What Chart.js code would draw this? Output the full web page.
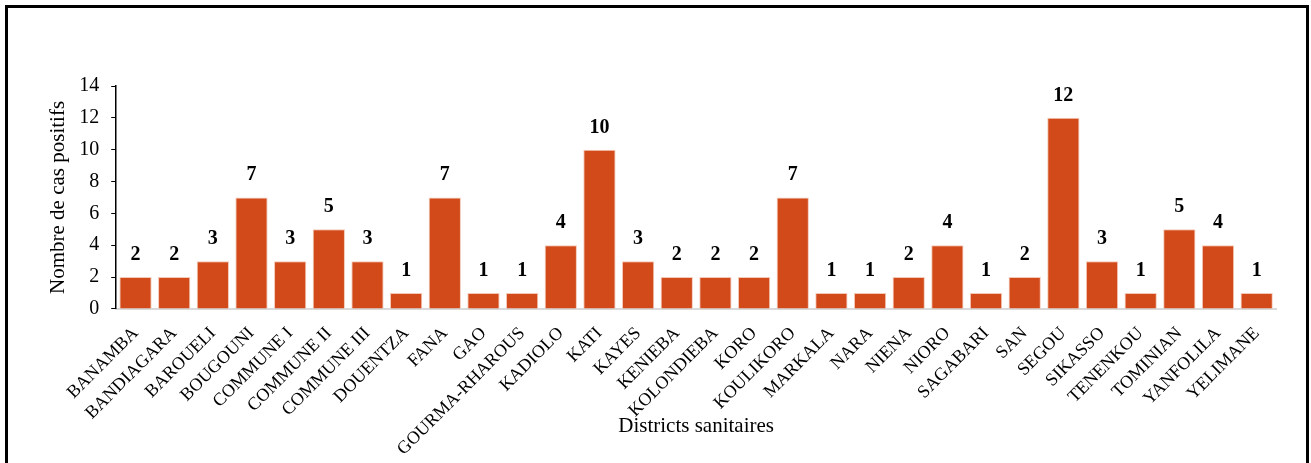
<!DOCTYPE html>
<html>
<head>
<meta charset="utf-8">
<script src="https://cdn.jsdelivr.net/npm/chart.js@4"></script>
<style>
    body { margin: 0; background: #fff; }
    #frame {
        position: absolute; left: 5px; top: 5px;
        width: 1298px; height: 470px;
        border: 3px solid #000;
    }
    #wrap { position: absolute; left: 0; top: 0; width: 1298px; height: 458px; }
</style>
</head>
<body>
<div id="frame"><div id="wrap"><canvas id="chart"></canvas></div></div>
<script>
const districts = ['BANAMBA', 'BANDIAGARA', 'BAROUELI', 'BOUGOUNI', 'COMMUNE I', 'COMMUNE II',
    'COMMUNE III', 'DOUENTZA', 'FANA', 'GAO', 'GOURMA-RHAROUS', 'KADIOLO', 'KATI', 'KAYES',
    'KENIEBA', 'KOLONDIEBA', 'KORO', 'KOULIKORO', 'MARKALA', 'NARA', 'NIENA', 'NIORO',
    'SAGABARI', 'SAN', 'SEGOU', 'SIKASSO', 'TENENKOU', 'TOMINIAN', 'YANFOLILA', 'YELIMANE'];
const positiveCases = [2, 2, 3, 7, 3, 5, 3, 1, 7, 1, 1, 4, 10, 3, 2, 2, 2, 7, 1, 1, 2, 4,
    1, 2, 12, 3, 1, 5, 4, 1];
const yTicks = [0, 2, 4, 6, 8, 10, 12, 14];

const serif = '"Liberation Serif", "Times New Roman", serif';

// value labels above each bar
const barLabels = {
    id: 'barLabels',
    afterDatasetsDraw(chart) {
        const ctx = chart.ctx;
        const meta = chart.getDatasetMeta(0);
        ctx.save();
        ctx.font = 'bold 20px ' + serif;
        ctx.fillStyle = '#000';
        ctx.textAlign = 'center';
        ctx.textBaseline = 'alphabetic';
        meta.data.forEach((bar, i) => {
            ctx.fillText(String(positiveCases[i]), bar.x, bar.y - 17);
        });
        ctx.restore();
    }
};

new Chart(document.getElementById('chart').getContext('2d'), {
    type: 'bar',
    data: {
        labels: districts,
        datasets: [{
            data: positiveCases,
            backgroundColor: '#D24A19',
            borderColor: '#F3C9B8',
            borderWidth: 1,
            barPercentage: 0.835,
            categoryPercentage: 1.0
        }]
    },
    options: {
        responsive: true,
        maintainAspectRatio: false,
        animation: false,
        layout: { padding: { top: 78, right: 30, left: 34, bottom: 5 } },
        plugins: {
            legend: { display: false },
            tooltip: { enabled: false }
        },
        scales: {
            x: {
                grid: { display: false, drawTicks: false },
                border: { display: true, color: '#d9d9d9', width: 2 },
                ticks: {
                    color: '#000',
                    font: { family: serif, size: 18 },
                    minRotation: 45,
                    maxRotation: 45,
                    autoSkip: false,
                    padding: 14
                },
                title: {
                    display: true,
                    text: 'Districts sanitaires',
                    color: '#000',
                    font: { family: serif, size: 21 },
                    padding: { top: -60, bottom: 22 }
                }
            },
            y: {
                min: 0,
                max: 14,
                afterBuildTicks(axis) {
                    axis.ticks = yTicks.map(v => ({ value: v }));
                },
                grid: { drawOnChartArea: false, drawTicks: true, tickLength: 5, color: '#000' },
                border: { display: true, color: '#000', width: 1.5 },
                ticks: {
                    color: '#000',
                    font: { family: serif, size: 20 },
                    padding: 12
                },
                title: {
                    display: true,
                    text: 'Nombre de cas positifs',
                    color: '#000',
                    font: { family: serif, size: 21 },
                    padding: { top: 4, bottom: -4 }
                }
            }
        }
    },
    plugins: [barLabels]
});
</script>
</body>
</html>
